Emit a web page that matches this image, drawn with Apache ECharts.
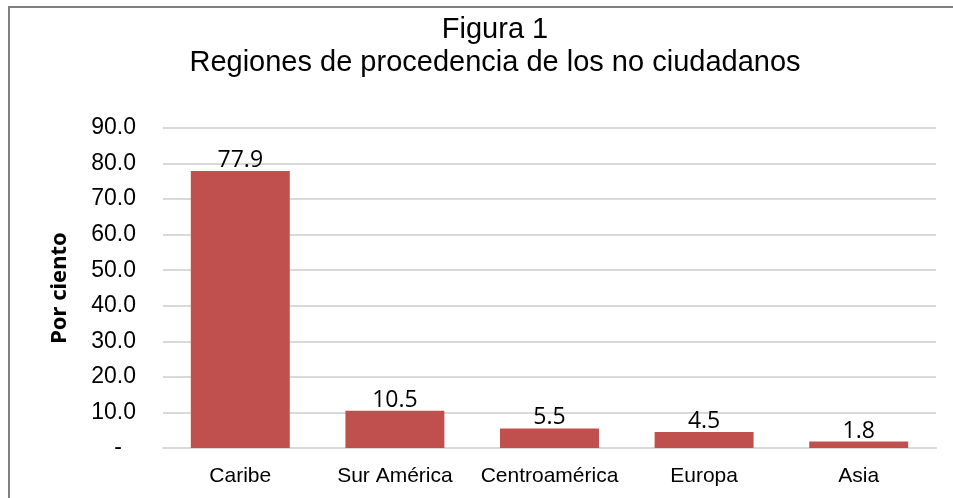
<!DOCTYPE html>
<html>
<head>
<meta charset="utf-8">
<script src="https://cdn.jsdelivr.net/npm/echarts@6/dist/echarts.min.js"></script>
<style>
  html, body { margin: 0; padding: 0; background: #fff; }
  #chart { width: 953px; height: 498px; }
</style>
</head>
<body>
<div id="chart"></div>
<script>
// datos
const regiones = ['Caribe', 'Sur América', 'Centroamérica', 'Europa', 'Asia'];
const porCiento = [77.9, 10.5, 5.5, 4.5, 1.8];
const tituloLineas = ['Figura 1', 'Regiones de procedencia de los no ciudadanos'];

const myChart = echarts.init(document.getElementById('chart'));

const option = {
    animation: false,
    graphic: [
        {
            type: 'rect',
            shape: { x: 9, y: 7, width: 1000, height: 600 },
            style: { fill: 'none', stroke: '#7f7f7f', lineWidth: 2 }
        },
        {
            type: 'text', x: 495, y: 30,
            style: { text: tituloLineas[0], font: '29px "Liberation Sans", Arial', fill: '#000', textAlign: 'center', textVerticalAlign: 'middle' }
        },
        {
            type: 'text', x: 495, y: 63,
            style: { text: tituloLineas[1], font: '29px "Liberation Sans", Arial', fill: '#000', textAlign: 'center', textVerticalAlign: 'middle' }
        }
    ],
    grid: {
        left: 163,
        right: 17,
        top: 128,
        bottom: 50
    },
    xAxis: {
        type: 'category',
        data: regiones,
        axisTick: { show: false },
        axisLine: { lineStyle: { color: '#d9d9d9', width: 2 } },
        axisLabel: {
            interval: 0,
            color: '#000',
            fontFamily: 'Liberation Sans',
            fontSize: 21,
            margin: 18
        }
    },
    yAxis: {
        type: 'value',
        min: 0,
        max: 90,
        interval: 10,
        name: 'Por ciento',
        nameLocation: 'middle',
        nameGap: 92,
        nameTextStyle: {
            color: '#000',
            fontFamily: 'Noto Sans',
            fontWeight: 'bold',
            fontSize: 22
        },
        axisLine: { show: false },
        axisTick: { show: false },
        splitLine: { lineStyle: { color: '#d9d9d9', width: 2 } },
        axisLabel: {
            color: '#000',
            fontFamily: 'Liberation Sans',
            fontSize: 23,
            margin: 27,
            formatter: function (v) {
                return v === 0 ? '{d|-}' : v.toFixed(1);
            },
            rich: {
                d: { fontFamily: 'Liberation Sans', fontSize: 23, color: '#000', padding: [0, 14, 0, 0] }
            }
        }
    },
    series: [
        {
            type: 'bar',
            data: porCiento,
            barWidth: '64%',
            itemStyle: { color: '#c0504d' },
            label: {
                show: true,
                position: 'top',
                distance: -1,
                color: '#000',
                fontFamily: 'Open Sans',
                fontSize: 23,
                formatter: function (p) { return p.value.toFixed(1); }
            }
        }
    ]
};

option && myChart.setOption(option);
</script>
</body>
</html>
